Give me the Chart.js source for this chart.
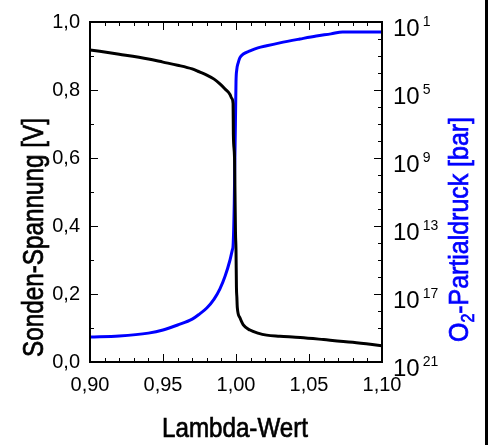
<!DOCTYPE html>
<html>
<head>
<meta charset="utf-8">
<script src="https://cdn.jsdelivr.net/npm/chart.js@4.4.1/dist/chart.umd.min.js"></script>
<style>
  html, body { margin: 0; padding: 0; background: #fff; }
  #wrap { width: 491px; height: 445px; position: relative; }
</style>
</head>
<body>
<div id="wrap"><canvas id="c" width="491" height="445"></canvas></div>
<script>
// ---- data ----
const lambdaVoltage = [0.900, 0.920, 0.940, 0.950, 0.960, 0.970, 0.975, 0.980, 0.985, 0.989, 0.9925, 0.9959, 0.9970, 0.9980, 0.9982, 0.9990, 0.9993, 0.99965, 1.0000, 1.0003, 1.0006, 1.0009, 1.0027, 1.0050, 1.0096, 1.0150, 1.0210, 1.0300, 1.0440, 1.0600, 1.0800, 1.1000];
const voltage       = [0.918, 0.905, 0.891, 0.882, 0.873, 0.862, 0.853, 0.844, 0.832, 0.818, 0.803,  0.787,  0.776,  0.760,  0.670,  0.600,  0.500,  0.380,   0.330,  0.220,  0.190,  0.160,  0.130,  0.109,  0.094,  0.085,  0.079,  0.076,  0.072,  0.066,  0.058,  0.048];

const lambdaO2   = [0.900, 0.920, 0.940, 0.950, 0.960, 0.970, 0.975, 0.980, 0.985, 0.989, 0.9925, 0.9959, 0.9975, 0.9980, 0.9988, 0.9992, 0.9996, 1.0000, 1.0005, 1.0015, 1.0027, 1.0050, 1.0096, 1.0150, 1.0210, 1.0300, 1.0438, 1.0550, 1.0650, 1.0730, 1.0850, 1.1000];
const o2Pressure = [3e-20, 3.4e-20, 5e-20, 7.6e-20, 1.5e-19, 3.3e-19, 6.6e-19, 1.5e-18, 5e-18, 2e-17, 1.1e-16, 1e-15, 4e-15, 7e-15, 2e-12, 7e-10, 1e-7, 3e-5, 1.5e-4, 4e-4, 8e-4, 1.3e-3, 2e-3, 3e-3, 4e-3, 5.9e-3, 1e-2, 1.5e-2, 2e-2, 2.6e-2, 2.6e-2, 2.6e-2];

const xTickValues = [0.90, 0.95, 1.00, 1.05, 1.10];
const xTickLabels = ['0,90', '0,95', '1,00', '1,05', '1,10'];
const yTickValues = [0.0, 0.2, 0.4, 0.6, 0.8, 1.0];
const yTickLabels = ['0,0', '0,2', '0,4', '0,6', '0,8', '1,0'];
const y2TickValues = [1e-21, 1e-17, 1e-13, 1e-9, 1e-5, 1e-1];
const y2TickExponents = ['21', '17', '13', '9', '5', '1'];

const xTitle = 'Lambda-Wert';
const yTitle = 'Sonden-Spannung [V]';
const y2TitleParts = ['O', '2', '-Partialdruck [bar]'];

const FONT = "'Liberation Sans Narrow', 'Liberation Sans', Arial, sans-serif";
const BLUE = '#0000ff';

function drawFitted(ctx, parts, targetW, color) {
  let total = 0;
  parts.forEach(p => { ctx.font = p.size + 'px ' + FONT; p.w = ctx.measureText(p.text).width; total += p.w; });
  ctx.scale(targetW / total, 1);
  ctx.fillStyle = color;
  ctx.strokeStyle = color;
  ctx.lineWidth = 0.7;
  let x = 0;
  parts.forEach(p => {
    ctx.font = p.size + 'px ' + FONT;
    ctx.fillText(p.text, x, p.dy);
    ctx.strokeText(p.text, x, p.dy);
    x += p.w;
  });
}

const decor = {
  id: 'decor',
  afterDraw(chart) {
    const { ctx, chartArea: a, scales } = chart;
    const sx = scales.x, sy = scales.y, sy2 = scales.y2;
    ctx.save();
    // frame
    ctx.strokeStyle = '#000';
    ctx.lineWidth = 2;
    ctx.strokeRect(a.left, a.top, a.right - a.left, a.bottom - a.top);
    // inward ticks
    ctx.lineWidth = 1;
    ctx.beginPath();
    for (let i = 0; i <= 20; i++) {
      const px = Math.round(sx.getPixelForValue(0.9 + i * 0.01)) + 0.5;
      const L = (i % 5 === 0) ? 8 : 4;
      ctx.moveTo(px, a.bottom); ctx.lineTo(px, a.bottom - L);
      ctx.moveTo(px, a.top); ctx.lineTo(px, a.top + L);
    }
    for (let i = 0; i <= 10; i++) {
      const py = Math.round(sy.getPixelForValue(i * 0.1)) + 0.5;
      const L = (i % 2 === 0) ? 8 : 4;
      ctx.moveTo(a.left, py); ctx.lineTo(a.left + L, py);
    }
    for (let e = -21; e <= -1; e++) {
      const py = Math.round(sy2.getPixelForValue(Math.pow(10, e))) + 0.5;
      const L = ((e + 1) % 4 === 0) ? 8 : 4;
      ctx.moveTo(a.right, py); ctx.lineTo(a.right - L, py);
    }
    ctx.stroke();

    // right tick labels: 10 with superscript
    ctx.fillStyle = '#000';
    ctx.textAlign = 'left';
    ctx.textBaseline = 'alphabetic';
    y2TickValues.forEach((v, i) => {
      const py = sy2.getPixelForValue(v);
      ctx.font = '24px ' + FONT;
      ctx.fillText('10', 393, py + 13.5);
      const w = ctx.measureText('10').width;
      ctx.font = '14px ' + FONT;
      ctx.fillText(y2TickExponents[i], 393 + w + 3, py + 4);
    });

    // x title
    ctx.save();
    ctx.translate(162, 437);
    drawFitted(ctx, [{ text: xTitle, size: 28, dy: 0 }], 146, '#000');
    ctx.restore();

    // left y title
    ctx.save();
    ctx.translate(43, 357);
    ctx.rotate(-Math.PI / 2);
    drawFitted(ctx, [{ text: yTitle, size: 29, dy: 0 }], 239, '#000');
    ctx.restore();

    // right y title
    ctx.save();
    ctx.translate(468, 342);
    ctx.rotate(-Math.PI / 2);
    drawFitted(ctx, [
      { text: y2TitleParts[0], size: 28, dy: 0 },
      { text: y2TitleParts[1], size: 18, dy: 6 },
      { text: y2TitleParts[2], size: 28, dy: 0 }
    ], 225, BLUE);
    ctx.restore();

    // right image edge bar
    ctx.fillStyle = '#000';
    ctx.fillRect(485, 0, 3, 445);
    ctx.restore();
  }
};

new Chart(document.getElementById('c'), {
  type: 'line',
  data: {
    datasets: [
      {
        label: yTitle,
        data: lambdaVoltage.map((l, i) => ({ x: l, y: voltage[i] })),
        borderColor: '#000',
        borderWidth: 3,
        pointRadius: 0,
        cubicInterpolationMode: 'monotone',
        yAxisID: 'y'
      },
      {
        label: 'O2-Partialdruck [bar]',
        data: lambdaO2.map((l, i) => ({ x: l, y: o2Pressure[i] })),
        borderColor: BLUE,
        borderWidth: 3,
        pointRadius: 0,
        cubicInterpolationMode: 'monotone',
        yAxisID: 'y2'
      }
    ]
  },
  plugins: [decor],
  options: {
    responsive: false,
    animation: false,
    events: [],
    layout: { padding: { top: 21, left: 0, right: 0, bottom: 0 } },
    plugins: { legend: { display: false }, tooltip: { enabled: false } },
    scales: {
      x: {
        type: 'linear',
        min: 0.9, max: 1.1,
        afterBuildTicks: s => { s.ticks = xTickValues.map(v => ({ value: v })); },
        afterFit: s => { s.height = 83; },
        grid: { display: false, drawTicks: false },
        border: { display: false },
        ticks: {
          padding: 11,
          maxRotation: 0,
          autoSkip: false,
          color: '#000',
          font: { family: FONT, size: 20 },
          callback: (v, i) => xTickLabels[i]
        },
        title: { display: false }
      },
      y: {
        type: 'linear',
        position: 'left',
        min: 0, max: 1,
        afterBuildTicks: s => { s.ticks = yTickValues.map(v => ({ value: v })); },
        afterFit: s => { s.width = 90; },
        grid: { display: false, drawTicks: false },
        border: { display: false },
        ticks: {
          padding: 10,
          color: '#000',
          font: { family: FONT, size: 20 },
          callback: (v, i) => yTickLabels[i]
        }
      },
      y2: {
        type: 'logarithmic',
        position: 'right',
        min: 1e-21, max: 1e-1,
        afterBuildTicks: s => { s.ticks = y2TickValues.map(v => ({ value: v })); },
        afterFit: s => { s.width = 109; },
        grid: { display: false, drawTicks: false },
        border: { display: false },
        ticks: { display: false }
      }
    }
  }
});
</script>
</body>
</html>
